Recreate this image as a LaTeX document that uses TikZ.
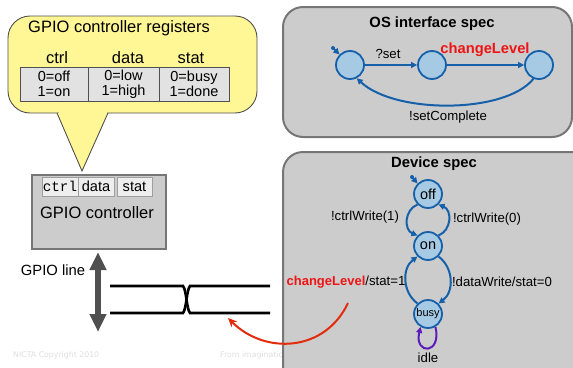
\documentclass[tikz,border=0pt]{standalone}
\usepackage{fontspec}
\setmainfont{Liberation Sans}
\setmonofont{Liberation Mono}
\newfontfamily\footerfont{DejaVu Sans}
\usetikzlibrary{arrows.meta}

\definecolor{bubbleyellow}{RGB}{255,246,150}
\definecolor{panelgray}{RGB}{204,204,204}
\definecolor{rimgray}{RGB}{118,118,118}
\definecolor{cellgray}{RGB}{226,226,226}
\definecolor{stateblue}{RGB}{166,202,228}
\definecolor{edgeblue}{RGB}{22,96,170}
\definecolor{loopviolet}{RGB}{92,28,186}
\definecolor{signalred}{RGB}{226,44,12}
\definecolor{eventred}{RGB}{238,20,20}
\definecolor{linegray}{RGB}{80,80,80}
\definecolor{footgray}{RGB}{222,222,222}

\newcommand{\bigsize}{\fontsize{16.5}{19}\selectfont}
\newcommand{\cellsize}{\fontsize{14.5}{15}\selectfont}
\newcommand{\edgesize}{\fontsize{13.2}{15}\selectfont}

\begin{document}
\begin{tikzpicture}[x=1pt,y=-1pt,
  bubble/.style={draw=linegray,fill=bubbleyellow,line width=0.9pt},
  regcell/.style={draw=linegray,fill=cellgray,line width=0.8pt,align=center,
    minimum height=34pt,inner sep=0pt,font=\cellsize},
  headtext/.style={font=\bigsize,inner sep=0pt},
  ctrlbox/.style={draw=rimgray,fill=panelgray,line width=2.4pt,inner sep=0pt},
  regbox/.style={draw=rimgray!70,fill=cellgray!60!white,line width=0.8pt,
    inner sep=0pt,minimum height=19pt,font=\fontsize{14.6}{16}\selectfont},
  panel/.style={draw=rimgray,fill=panelgray,line width=2pt,rounded corners=20pt},
  paneltitle/.style={font=\fontsize{14.8}{17}\selectfont\bfseries,inner sep=0pt},
  state/.style={circle,draw=edgeblue,fill=stateblue,line width=1.8pt,
    minimum size=28pt,inner sep=0pt,font=\fontsize{14.5}{16}\selectfont},
  trans/.style={draw=edgeblue,line width=2pt,-{Triangle[length=6pt,width=6pt]}},
  edgetext/.style={font=\edgesize,inner sep=0pt},
  eventtext/.style={font=\fontsize{14.7}{17}\selectfont\bfseries,text=eventred,inner sep=0pt},
  signal/.style={line width=2.6pt,black},
  footer/.style={font=\footerfont\fontsize{7.8}{9}\selectfont,text=footgray,inner sep=0pt}]

  \useasboundingbox (0,0) rectangle (573,367);

  % slide footer
  \node[footer,anchor=west] (copyright) at (13,355) {NICTA Copyright 2010};
  \node[footer,anchor=west] (motto) at (220,355) {From imagination to impact};

  % speech bubble with the register table
  \draw[bubble,rounded corners=22pt] (8,16) rectangle (257,113);
  \fill[bubbleyellow] (58.5,110) rectangle (106.5,114.5);
  \path[bubble] (57,113) -- (82,171) -- (108,113);
  \node[headtext] (regtitle) at (119,28) {GPIO controller registers};
  \node[headtext] (ctrlhead) at (57,58) {ctrl};
  \node[headtext] (datahead) at (128,58) {data};
  \node[headtext] (stathead) at (191,58) {stat};
  \node[regcell,minimum width=68pt] (ctrlreg) at (54,84) {0=off\\1=on};
  \node[regcell,minimum width=71pt] (datareg) at (123.5,84) {0=low\\1=high};
  \node[regcell,minimum width=70pt] (statreg) at (194,84) {0=busy\\1=done};

  % controller block
  \node[ctrlbox,minimum width=134pt,minimum height=74pt] (gpio) at (99,212) {};
  \node[regbox,minimum width=36pt,font=\ttfamily\fontsize{14.3}{16}\selectfont] (ctrlbit) at (60,186.5) {ctrl};
  \node[regbox,minimum width=36pt] (databit) at (96,186.5) {data};
  \node[regbox,minimum width=35pt] (statbit) at (134.5,186.5) {stat};
  \node[headtext] (gpiolabel) at (97,213) {GPIO controller};

  % GPIO line
  \coordinate (linetop) at (98,252);
  \coordinate (linebot) at (98,332);
  \draw[linegray,line width=6pt,
    {Triangle[length=18pt,width=16pt]}-{Triangle[length=18pt,width=16pt]}]
    (linetop) -- (linebot);
  \node[font=\fontsize{14.8}{17}\selectfont,inner sep=0pt] (linelabel) at (53,270) {GPIO line};
  \draw[signal] (110,286) -- (183,286) .. controls (186.5,290) and (186.5,309) .. (190,313) -- (270,313);
  \draw[signal] (110,313) -- (183,313) .. controls (186.5,309) and (186.5,290) .. (190,286) -- (270,286);

  % OS interface spec
  \draw[panel] (283,7) rectangle (572,137);
  \node[paneltitle] (ostitle) at (432,24) {OS interface spec};
  \node[state] (s1) at (350,65) {};
  \node[state] (s2) at (432,65) {};
  \node[state] (s3) at (539,65) {};
  \coordinate (init1) at (333,48);
  \fill[edgeblue] (init1) circle (2pt);
  \draw[trans] (init1) -- (s1.135);
  \draw[trans] (s1) -- (s2);
  \draw[trans] (s2) -- (s3);
  \draw[trans] (s3.248) .. controls (505,114) and (395,114) .. (s1.297);
  \node[edgetext] (setlbl) at (388,54) {?set};
  \node[eventtext] (oslevel) at (485,50) {changeLevel};
  \node[edgetext] (donelbl) at (448,117) {!setComplete};

  % Device spec
  \draw[panel] (283,152) rectangle (600,400);
  \node[paneltitle] (devtitle) at (434,164) {Device spec};
  \node[state] (off) at (428,194) {off};
  \node[state] (on) at (428,246) {on};
  \node[state,font=\fontsize{11}{13}\selectfont] (busy) at (428,314) {busy};
  \coordinate (init2) at (412,177);
  \fill[edgeblue] (init2) circle (2pt);
  \draw[trans] (init2) -- (off.135);
  \draw[trans] (off.225) .. controls (404,210) and (404,230) .. (on.135);
  \draw[trans] (on.45) .. controls (452,230) and (452,210) .. (off.-45);
  \draw[trans] (on.-45) .. controls (454,268) and (454,292) .. (busy.45);
  \draw[trans] (busy.135) .. controls (402,292) and (402,268) .. (on.-135);
  \draw[trans,draw=loopviolet] (busy.-60) .. controls (442,355) and (414,355) .. (busy.-120);
  \node[edgetext] (onlbl) at (365,217) {!ctrlWrite(1)};
  \node[edgetext] (offlbl) at (487,219) {!ctrlWrite(0)};
  \node[edgetext] (busylbl) at (346,282)
    {\textcolor{eventred}{\fontsize{13}{15}\selectfont\bfseries changeLevel}/stat=1};
  \node[edgetext] (writelbl) at (502,282) {!dataWrite/stat=0};
  \node[edgetext] (idlelbl) at (428,358) {idle};

  % level change drives the line
  \coordinate (cltail) at (348,303);
  \coordinate (clhead) at (228,318);
  \draw[signalred,line width=2pt,-{Stealth[length=9pt,width=8pt]}]
    (cltail) .. controls (325,352) and (265,355) .. (clhead);
\end{tikzpicture}
\end{document}
